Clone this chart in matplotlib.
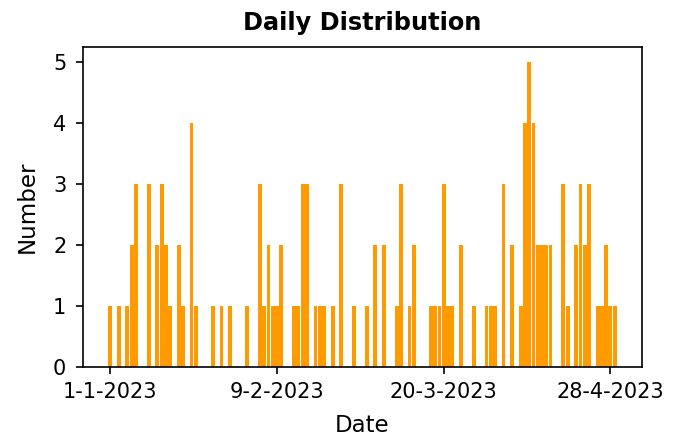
import numpy as np
import pandas as pd
import matplotlib
matplotlib.use("Agg")
import matplotlib.pyplot as plt

# Daily counts (only days with at least one entry)
dates = ["2023-01-01", "2023-01-03", "2023-01-05", "2023-01-06", "2023-01-07",
         "2023-01-10", "2023-01-12", "2023-01-13", "2023-01-14", "2023-01-15",
         "2023-01-17", "2023-01-18", "2023-01-20", "2023-01-21", "2023-01-25",
         "2023-01-27", "2023-01-29", "2023-02-02", "2023-02-05", "2023-02-06",
         "2023-02-07", "2023-02-08", "2023-02-09", "2023-02-10", "2023-02-13",
         "2023-02-14", "2023-02-15", "2023-02-16", "2023-02-18", "2023-02-19",
         "2023-02-20", "2023-02-22", "2023-02-24", "2023-02-27", "2023-03-02",
         "2023-03-04", "2023-03-06", "2023-03-09", "2023-03-10", "2023-03-12",
         "2023-03-13", "2023-03-17", "2023-03-18", "2023-03-19", "2023-03-20",
         "2023-03-21", "2023-03-22", "2023-03-24", "2023-03-27", "2023-03-30",
         "2023-03-31", "2023-04-01", "2023-04-03", "2023-04-05", "2023-04-07",
         "2023-04-08", "2023-04-09", "2023-04-10", "2023-04-11", "2023-04-12",
         "2023-04-13", "2023-04-14", "2023-04-17", "2023-04-18", "2023-04-20",
         "2023-04-21", "2023-04-22", "2023-04-23", "2023-04-25", "2023-04-26",
         "2023-04-27", "2023-04-28", "2023-04-29"]
counts = [1, 1, 1, 2, 3,
          3, 2, 3, 2, 1,
          2, 1, 4, 1, 1,
          1, 1, 1, 3, 1,
          2, 1, 1, 2, 1,
          1, 3, 3, 1, 1,
          1, 1, 3, 1, 1,
          2, 2, 1, 3, 1,
          2, 1, 1, 1, 3,
          1, 1, 2, 1, 1,
          1, 1, 3, 2, 1,
          4, 5, 4, 2, 2,
          2, 2, 3, 1, 2,
          3, 2, 3, 1, 1,
          2, 1, 1]

tick_dates = ["2023-01-01", "2023-02-09", "2023-03-20", "2023-04-28"]
tick_labels = ["1-1-2023", "9-2-2023", "20-3-2023", "28-4-2023"]

bar_color = "#ff9a00"

'''---Plot---'''
fig = plt.figure(figsize=(683/150, 443/150), dpi=150)
ax = fig.add_axes([0.1215, 0.1716, 0.8185, 0.7224])

x = pd.to_datetime(dates)
ax.bar(x, counts, width=0.9, color=bar_color)

ax.set_xticks(pd.to_datetime(tick_dates))
ax.set_xticklabels(tick_labels)
ax.tick_params(labelsize=10)
ax.tick_params(axis="y", pad=4.5)

ax.set_title("Daily Distribution", fontsize=11.5, fontweight="bold", pad=8)
ax.set_xlabel("Date", fontsize=11, labelpad=6)
ax.set_ylabel("Number", fontsize=11, labelpad=7)

plt.savefig("out.png", dpi=150)
